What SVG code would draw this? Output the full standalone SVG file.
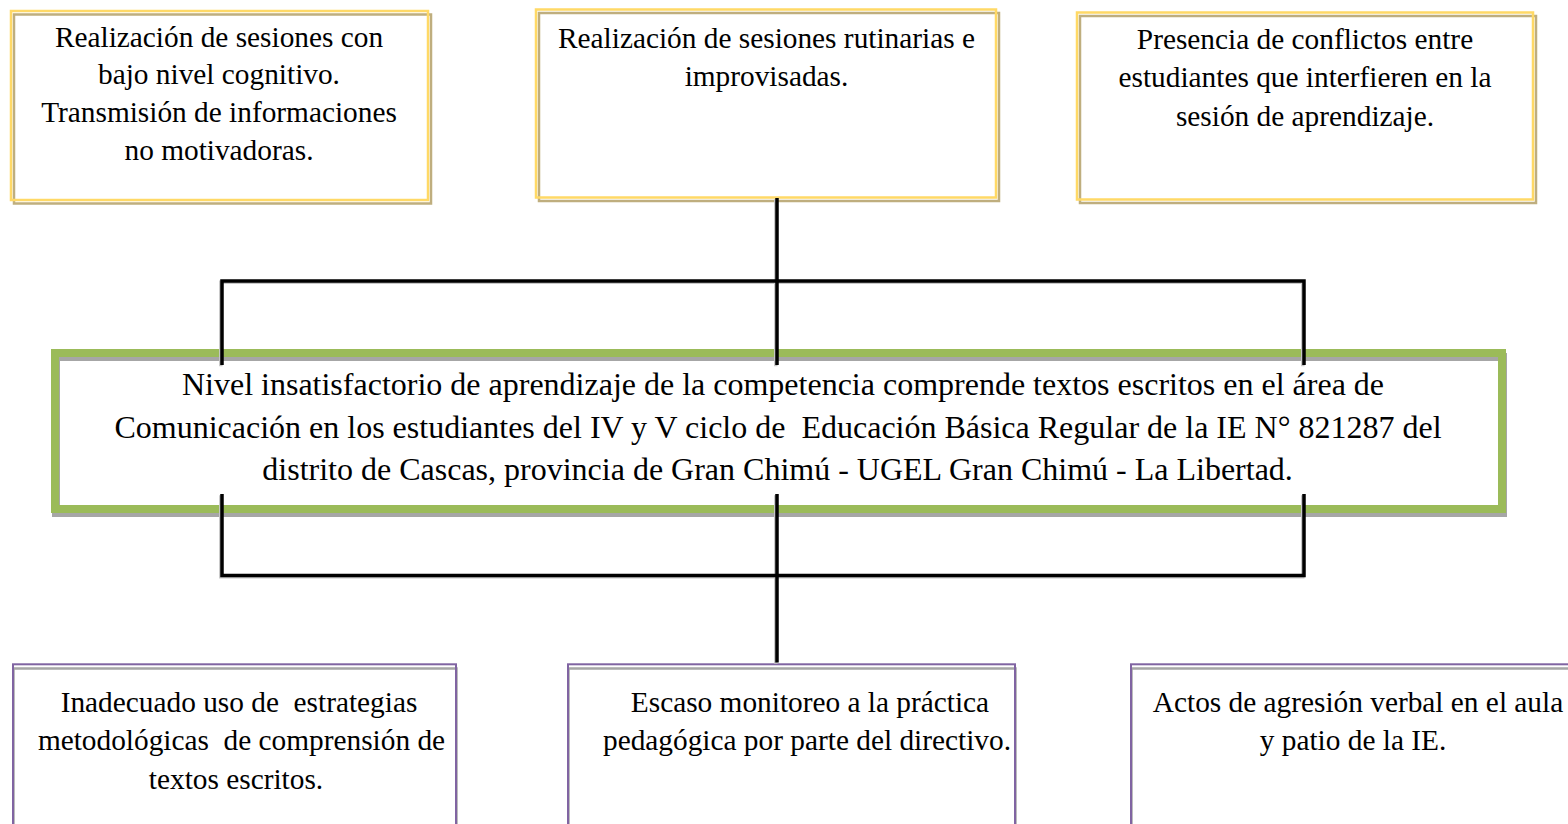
<svg xmlns="http://www.w3.org/2000/svg" width="1568" height="824" viewBox="0 0 1568 824">
<style>
  .t { font-family: "Liberation Serif", "Times New Roman", serif; font-size: 29.33px; fill: #000; text-anchor: middle; white-space: pre; }
  .tm { font-family: "Liberation Serif", "Times New Roman", serif; font-size: 32px; fill: #000; text-anchor: middle; white-space: pre; }
  .ybox { fill: none; stroke: #FFD966; stroke-width: 2.5; }
  .yshadow { fill: none; stroke: #BFAE7E; stroke-width: 2.5; }
  .pbox { fill: none; stroke: #8064A2; stroke-width: 2; }
  .pshadow { fill: none; stroke: #A6A6A6; stroke-width: 2.5; }
  .gbox { fill: none; stroke: #9BBB59; stroke-width: 8; }
  .gshadow { fill: none; stroke: #A6A6A6; stroke-width: 8; }
  .conn { fill: none; stroke: #000; stroke-width: 3.5; }
  .connsh { fill: none; stroke: #C8C8C8; stroke-width: 3.5; }
</style>
<rect x="0" y="0" width="1568" height="824" fill="#fff"/>

<g id="cause1">
  <rect class="yshadow" x="14" y="14.5" width="417" height="189"/>
  <rect class="ybox" x="11" y="11" width="417" height="189"/>
  <text class="t" x="219" y="46.5">Realización de sesiones con</text>
  <text class="t" x="219" y="84.3">bajo nivel cognitivo.</text>
  <text class="t" x="219" y="122.1">Transmisión de informaciones</text>
  <text class="t" x="219" y="159.9">no motivadoras.</text>
</g>

<g id="cause2">
  <rect class="yshadow" x="539" y="13" width="460" height="188"/>
  <rect class="ybox" x="536" y="9.5" width="460" height="188"/>
  <text class="t" x="766.5" y="48">Realización de sesiones rutinarias e</text>
  <text class="t" x="766.5" y="86">improvisadas.</text>
</g>

<g id="cause3">
  <rect class="yshadow" x="1080" y="16" width="456" height="187"/>
  <rect class="ybox" x="1077" y="12.5" width="456" height="187"/>
  <text class="t" x="1305" y="49.3">Presencia de conflictos entre</text>
  <text class="t" x="1305" y="87.3">estudiantes que interfieren en la</text>
  <text class="t" x="1305" y="125.5">sesión de aprendizaje.</text>
</g>

<g id="problem">
  <rect x="55" y="353" width="1447" height="156" fill="#fff"/>
  <rect class="gshadow" x="56" y="357" width="1447" height="156"/>
  <rect class="gbox" x="55" y="353" width="1447" height="156"/>
  <text class="tm" x="783" y="395">Nivel insatisfactorio de aprendizaje de la competencia comprende textos escritos en el área de</text>
  <text class="tm" x="778" y="437.7" xml:space="preserve">Comunicación en los estudiantes del IV y V ciclo de  Educación Básica Regular de la IE N° 821287 del</text>
  <text class="tm" x="777.6" y="480.3">distrito de Cascas, provincia de Gran Chimú - UGEL Gran Chimú - La Libertad.</text>
</g>

<g id="effect1">
  <rect class="pshadow" x="13.5" y="668.5" width="443" height="180"/>
  <rect class="pbox" x="13" y="664.3" width="443" height="180"/>
  <text class="t" x="239" y="711.5" xml:space="preserve">Inadecuado uso de  estrategias</text>
  <text class="t" x="241.5" y="750" xml:space="preserve">metodológicas  de comprensión de</text>
  <text class="t" x="236" y="788.5">textos escritos.</text>
</g>

<g id="effect2">
  <rect class="pshadow" x="568.5" y="668.5" width="447" height="180"/>
  <rect class="pbox" x="568" y="664.3" width="447" height="180"/>
  <text class="t" x="810" y="711.5">Escaso monitoreo a la práctica</text>
  <text class="t" x="807" y="750">pedagógica por parte del directivo.</text>
</g>

<g id="effect3">
  <rect class="pshadow" x="1131.5" y="668.5" width="447" height="180"/>
  <rect class="pbox" x="1131" y="664.3" width="447" height="180"/>
  <text class="t" x="1358" y="711.5">Actos de agresión verbal en el aula</text>
  <text class="t" x="1353" y="750">y patio de la IE.</text>
</g>

<g id="connectors">
  <g transform="translate(-1.2,1.2)">
    <path class="connsh" d="M777 198 V365 M222 365 V281 H1304 V365"/>
    <path class="connsh" d="M222 494 V575.5 H1304 V494 M777 494 V662.5"/>
  </g>
  <path class="conn" d="M777 198 V365 M222 365 V281 H1304 V365"/>
  <path class="conn" d="M222 494 V575.5 H1304 V494 M777 494 V662.5"/>
</g>
</svg>
